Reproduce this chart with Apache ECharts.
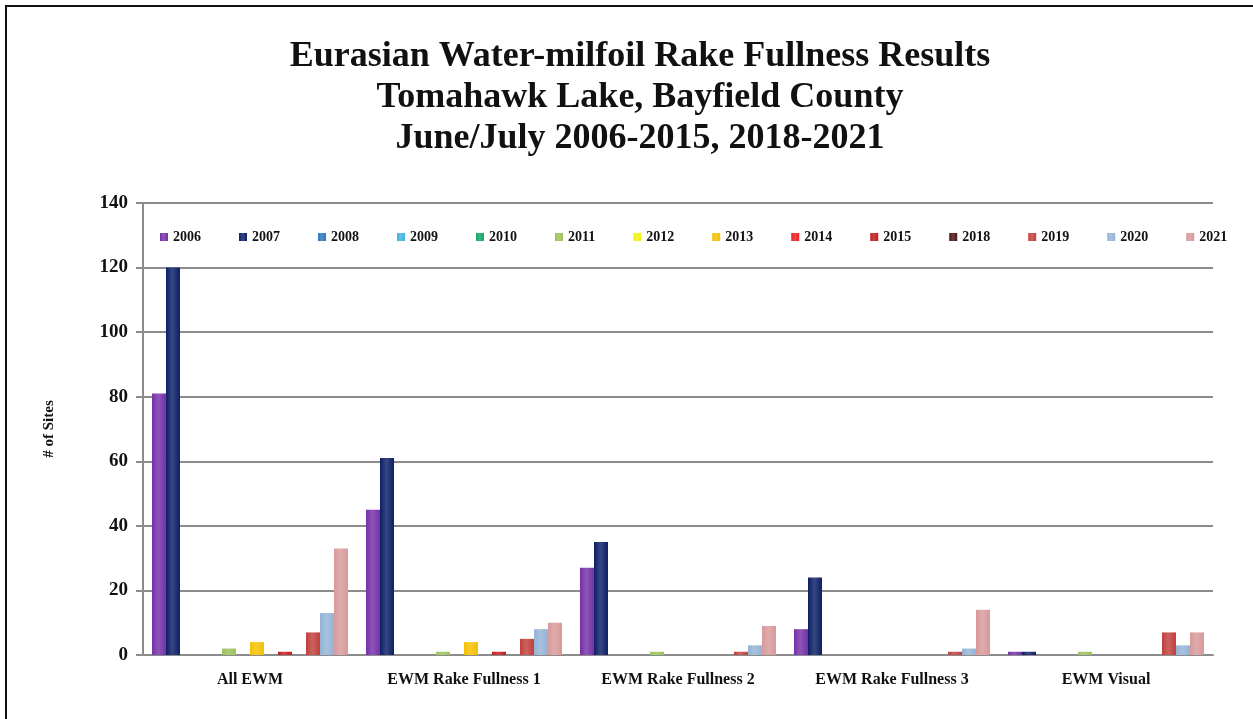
<!DOCTYPE html>
<html>
<head>
<meta charset="utf-8">
<script src="https://cdn.jsdelivr.net/npm/echarts@6/dist/echarts.min.js"></script>
<style>
  html, body { margin: 0; padding: 0; background: #fff; }
  #chart { width: 1253px; height: 719px; }
</style>
</head>
<body>
<div id="chart"></div>
<script>
const categories = ['All EWM', 'EWM Rake Fullness 1', 'EWM Rake Fullness 2', 'EWM Rake Fullness 3', 'EWM Visual'];
const years = ['2006', '2007', '2008', '2009', '2010', '2011', '2012', '2013', '2014', '2015', '2018', '2019', '2020', '2021'];
const yearColors = ['#7530a8', '#0c1f66', '#2a78c0', '#3bb4e0', '#13a565', '#9bc25a', '#f2f20a', '#f5c000', '#ee1c24', '#c41a1a', '#4a1518', '#c0403c', '#95b3d7', '#d8999a'];

const v2006 = [81, 45, 27, 8, 1];
const v2007 = [120, 61, 35, 24, 1];
const v2008 = [0, 0, 0, 0, 0];
const v2009 = [0, 0, 0, 0, 0];
const v2010 = [0, 0, 0, 0, 0];
const v2011 = [2, 1, 1, 0, 1];
const v2012 = [0, 0, 0, 0, 0];
const v2013 = [4, 4, 0, 0, 0];
const v2014 = [0, 0, 0, 0, 0];
const v2015 = [1, 1, 0, 0, 0];
const v2018 = [0, 0, 0, 0, 0];
const v2019 = [7, 5, 1, 1, 7];
const v2020 = [13, 8, 3, 2, 3];
const v2021 = [33, 10, 9, 14, 7];
const seriesValues = [v2006, v2007, v2008, v2009, v2010, v2011, v2012, v2013, v2014, v2015, v2018, v2019, v2020, v2021];

const yTicks = { min: 0, max: 140, interval: 20 };
const titleLines = [
  'Eurasian Water-milfoil Rake Fullness Results',
  'Tomahawk Lake, Bayfield County',
  'June/July 2006-2015, 2018-2021'
];

const serif = '"Liberation Serif", "DejaVu Serif", serif';

// lighten a hex colour toward white
const lighten = (hex, k) => {
  const n = parseInt(hex.slice(1), 16);
  const r = (n >> 16) & 255, g = (n >> 8) & 255, b = n & 255;
  const m = c => Math.round(c + (255 - c) * k);
  return 'rgb(' + m(r) + ',' + m(g) + ',' + m(b) + ')';
};

const series = years.map((y, i) => ({
  name: y,
  type: 'bar',
  data: seriesValues[i],
  barGap: '0%',
  barCategoryGap: '8.4%',
  itemStyle: {
    color: {
      type: 'linear', x: 0, y: 0, x2: 1, y2: 0,
      colorStops: [
        { offset: 0, color: yearColors[i] },
        { offset: 0.45, color: lighten(yearColors[i], 0.18) },
        { offset: 1, color: yearColors[i] }
      ]
    }
  },
  emphasis: { disabled: true }
}));

const chartNode = document.getElementById('chart');
const myChart = echarts.init(chartNode, null, { renderer: 'canvas' });

const option = {
  animation: false,
  backgroundColor: '#fff',
  color: yearColors,
  graphic: [
    {
      type: 'rect',
      shape: { x: 6, y: 6, width: 1262, height: 740 },
      style: { fill: 'none', stroke: '#111', lineWidth: 2 }
    },
    {
      type: 'text',
      x: 640,
      y: 36,
      style: {
        text: titleLines.join('\n'),
        font: 'bold 36px ' + serif,
        fill: '#111',
        align: 'center',
        verticalAlign: 'top',
        lineHeight: 41
      }
    }
  ],
  legend: {
    data: years,
    left: 155,
    top: 225,
    itemWidth: 8,
    itemHeight: 8,
    itemGap: 38,
    icon: 'rect',
    textStyle: { fontFamily: serif, fontWeight: 'bold', fontSize: 14, color: '#111' }
  },
  grid: { left: 143, right: 40, top: 203, bottom: 64, containLabel: false },
  xAxis: {
    type: 'category',
    data: categories,
    axisLine: { show: true, lineStyle: { color: '#8c8c8c', width: 2 } },
    axisTick: { show: false },
    axisLabel: { fontFamily: serif, fontWeight: 'bold', fontSize: 16, color: '#111', margin: 17 }
  },
  yAxis: {
    type: 'value',
    min: yTicks.min,
    max: yTicks.max,
    interval: yTicks.interval,
    name: '# of Sites',
    nameLocation: 'middle',
    nameGap: 86,
    nameTextStyle: { fontFamily: serif, fontWeight: 'bold', fontSize: 15, color: '#111' },
    axisLine: { show: true, lineStyle: { color: '#8c8c8c', width: 2 } },
    axisTick: { show: true, length: 7, lineStyle: { color: '#8c8c8c', width: 2 } },
    axisLabel: { fontFamily: serif, fontWeight: 'bold', fontSize: 19, color: '#111', margin: 15 },
    splitLine: { show: true, lineStyle: { color: '#8c8c8c', width: 2 } }
  },
  series: series
};

myChart.setOption(option);
</script>
</body>
</html>
